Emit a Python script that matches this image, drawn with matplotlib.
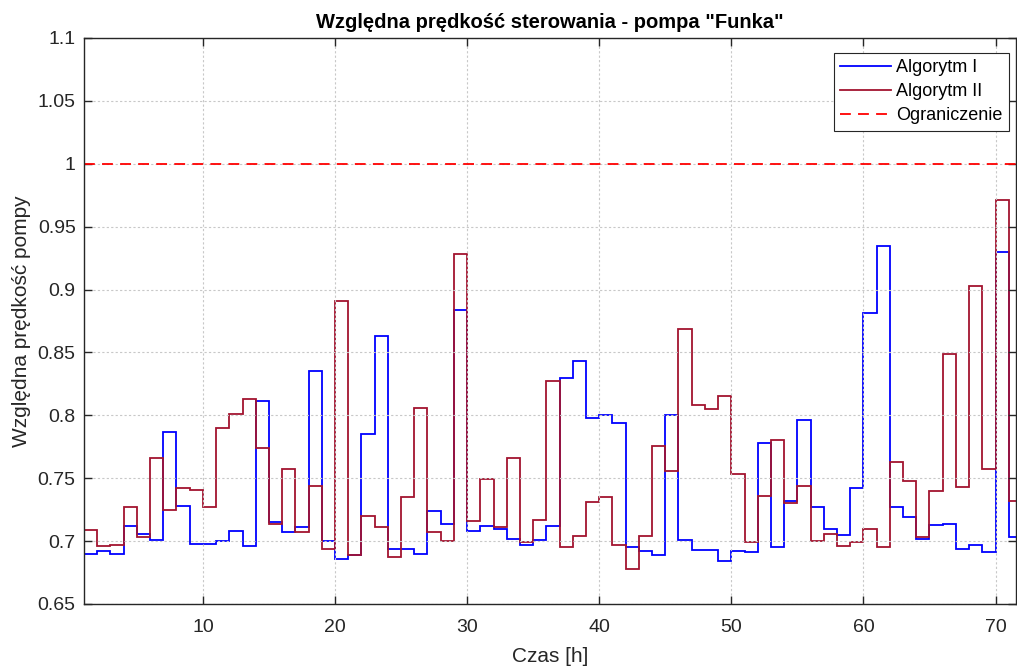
import matplotlib
matplotlib.use("Agg")
import matplotlib.pyplot as plt
import numpy as np

hours = np.arange(1, 73)  # step edges 1..72

algorytm_1 = [0.690, 0.692, 0.690, 0.712, 0.706, 0.701, 0.787, 0.728, 0.698, 0.698,
              0.700, 0.708, 0.696, 0.811, 0.715, 0.707, 0.711, 0.835, 0.700, 0.686,
              0.689, 0.785, 0.863, 0.694, 0.694, 0.690, 0.724, 0.714, 0.884, 0.708,
              0.712, 0.710, 0.702, 0.697, 0.701, 0.712, 0.830, 0.843, 0.798, 0.800,
              0.794, 0.695, 0.692, 0.689, 0.800, 0.701, 0.693, 0.693, 0.684, 0.692,
              0.691, 0.778, 0.695, 0.732, 0.796, 0.727, 0.710, 0.705, 0.742, 0.881,
              0.935, 0.727, 0.719, 0.702, 0.713, 0.714, 0.694, 0.697, 0.691, 0.930,
              0.703]

algorytm_2 = [0.709, 0.696, 0.697, 0.727, 0.703, 0.766, 0.725, 0.742, 0.741, 0.727,
              0.790, 0.801, 0.813, 0.774, 0.714, 0.757, 0.707, 0.744, 0.694, 0.891,
              0.689, 0.720, 0.711, 0.687, 0.735, 0.806, 0.707, 0.700, 0.928, 0.716,
              0.749, 0.711, 0.766, 0.699, 0.717, 0.827, 0.695, 0.704, 0.731, 0.735,
              0.697, 0.678, 0.704, 0.776, 0.756, 0.869, 0.808, 0.805, 0.815, 0.753,
              0.699, 0.736, 0.780, 0.730, 0.744, 0.700, 0.706, 0.696, 0.699, 0.710,
              0.695, 0.763, 0.748, 0.703, 0.740, 0.849, 0.743, 0.903, 0.757, 0.971,
              0.732]

limit_value = 1.0

x_ticks = [10, 20, 30, 40, 50, 60, 70]
y_ticks = [0.65, 0.7, 0.75, 0.8, 0.85, 0.9, 0.95, 1.0, 1.05, 1.1]
y_tick_labels = ["0.65", "0.7", "0.75", "0.8", "0.85", "0.9", "0.95", "1", "1.05", "1.1"]

plt.rcParams['font.family'] = ['Liberation Sans', 'DejaVu Sans']

fig = plt.figure(figsize=(10.17, 6.68), dpi=100)
ax = fig.add_axes([84/1017, 1 - 604/668, (1016 - 84)/1017, (604 - 38)/668])

ax.stairs(algorytm_1, hours, color='#0000FF', linewidth=1.3, label='Algorytm I', baseline=None)
ax.stairs(algorytm_2, hours, color='#A2142F', linewidth=1.3, label='Algorytm II', baseline=None)
ax.axhline(limit_value, color='#FF0000', linestyle=(0, (6, 4)), linewidth=1.3, label='Ograniczenie')

ax.set_xlim(1, 71.55)
ax.set_ylim(0.65, 1.1)
ax.set_xticks(x_ticks)
ax.set_yticks(y_ticks)
ax.set_yticklabels(y_tick_labels)

ax.grid(True, color='#c8c8c8', linestyle=(0, (2, 2)), linewidth=0.8)
ax.tick_params(direction='in', top=True, right=True, labelsize=14, length=6, width=1, colors='#262626')
ax.tick_params(axis='x', pad=11)
ax.tick_params(axis='y', pad=6)
for sp in ax.spines.values():
    sp.set_color('#262626')
    sp.set_linewidth(1.0)

ax.set_title('Względna prędkość sterowania - pompa "Funka"', fontsize=14.5, fontweight='bold', pad=7)
ax.set_xlabel('Czas [h]', fontsize=15, color='#262626', labelpad=8)
ax.set_ylabel('Względna prędkość pompy', fontsize=15, color='#262626', labelpad=5)

leg = ax.legend(loc='upper right', bbox_to_anchor=(0.9925, 0.9735), fontsize=13,
                frameon=True, fancybox=False, edgecolor='#262626', framealpha=1,
                borderpad=0.35, labelspacing=0.39, handlelength=2.8, handletextpad=0.3,
                borderaxespad=0)
leg.get_frame().set_linewidth(0.8)

fig.savefig('out.png', dpi=100)
